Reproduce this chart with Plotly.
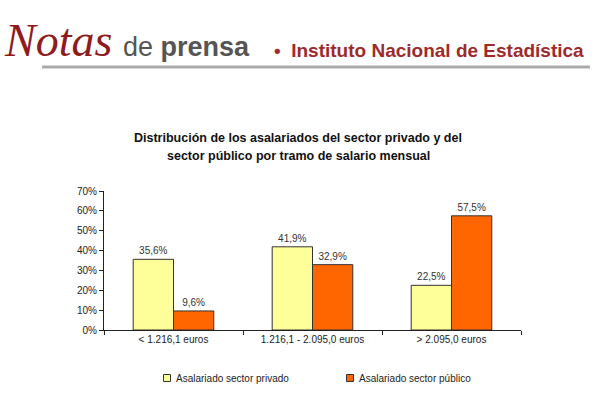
import plotly.graph_objects as go

categories = ["< 1.216,1 euros", "1.216,1 - 2.095,0 euros", "> 2.095,0 euros"]
privado = [35.6, 41.9, 22.5]
publico = [9.6, 32.9, 57.5]
series_names = ["Asalariado sector privado", "Asalariado sector público"]
series_colors = ["#FFFF99", "#FF6600"]
y_ticks = [0, 10, 20, 30, 40, 50, 60, 70]
y_tick_labels = [f"{v}%" for v in y_ticks]

W, H = 599, 397
L, R, T, B = 104, 521, 191, 330


def px(x):
    return (x - L) / (R - L)


def py(y):
    return (B - y) / (B - T)


def lab(v):
    return f"{v:.1f}".replace(".", ",") + "%"


fig = go.Figure()
for name, vals, col in zip(series_names, [privado, publico], series_colors):
    fig.add_trace(go.Bar(
        x=categories, y=vals, name=name,
        marker=dict(color=col, line=dict(color="#333333", width=1)),
        text=[lab(v) for v in vals], textposition="outside",
        textfont=dict(size=10, color="#333333", family="Liberation Sans"),
        cliponaxis=False, showlegend=False,
    ))

fig.update_layout(
    width=W, height=H,
    margin=dict(l=L, r=W - R, t=T, b=H - B, pad=0, autoexpand=False),
    paper_bgcolor="white", plot_bgcolor="white",
    barmode="group", bargap=0.42, bargroupgap=0,
    font=dict(family="Liberation Sans", size=10, color="#222222"),
    showlegend=False,
)
fig.update_yaxes(range=[0, 70], tickvals=y_ticks, ticktext=y_tick_labels,
                 showgrid=False, zeroline=False, showline=True, linecolor="#222222", linewidth=1,
                 ticks="outside", ticklen=4, tickcolor="#222222",
                 tickfont=dict(size=10, color="#222222"))
fig.update_xaxes(showgrid=False, showline=True, linecolor="#222222", linewidth=1,
                 ticks="outside", tickson="boundaries", ticklen=4, tickcolor="#222222",
                 tickfont=dict(size=10, color="#222222"))

# Custom legend (small square swatches)
legend_x = [167, 350]
for name, col, lx in zip(series_names, series_colors, legend_x):
    fig.add_shape(type="rect", xref="paper", yref="paper",
                  x0=px(lx - 3.5), x1=px(lx + 3.5), y0=py(378 - 3.5), y1=py(378 + 3.5),
                  line=dict(color="#333333", width=1), fillcolor=col)
    fig.add_annotation(text=name, xref="paper", yref="paper", x=px(lx + 7), y=py(378),
                       xanchor="left", yanchor="middle", showarrow=False,
                       font=dict(size=10, color="#222222", family="Liberation Sans"))

title_lines = ["Distribución de los asalariados del sector privado y del",
               "sector público por tramo de salario mensual"]
for i, t in enumerate(title_lines):
    fig.add_annotation(text=f"<b>{t}</b>", xref="paper", yref="paper",
                       x=px(298), y=py(138 + 18 * i), xanchor="center", yanchor="middle",
                       showarrow=False, font=dict(size=12.5, color="#111111", family="Liberation Sans"))

# Header
fig.add_shape(type="line", xref="paper", yref="paper", x0=px(42), x1=px(590), y0=py(67), y1=py(67),
              line=dict(color="#AAAAAA", width=3))
fig.add_annotation(text="<i>Notas</i>", xref="paper", yref="paper", x=px(2), y=py(40),
                   xanchor="left", yanchor="middle", showarrow=False,
                   font=dict(size=46, color="#8E1B1E", family="Liberation Serif"))
fig.add_annotation(text="de <b>prensa</b>", xref="paper", yref="paper", x=px(121), y=py(47),
                   xanchor="left", yanchor="middle", showarrow=False,
                   font=dict(size=27, color="#555555", family="Liberation Sans"))
fig.add_annotation(text="<b>•  Instituto Nacional de Estadística</b>", xref="paper", yref="paper",
                   x=px(272), y=py(50), xanchor="left", yanchor="middle", showarrow=False,
                   font=dict(size=19, color="#9E2A2B", family="Liberation Sans"))

fig.write_html("out.html", config={"displayModeBar": False},
               post_script="document.body.style.margin='0';document.body.style.overflow='hidden';")
